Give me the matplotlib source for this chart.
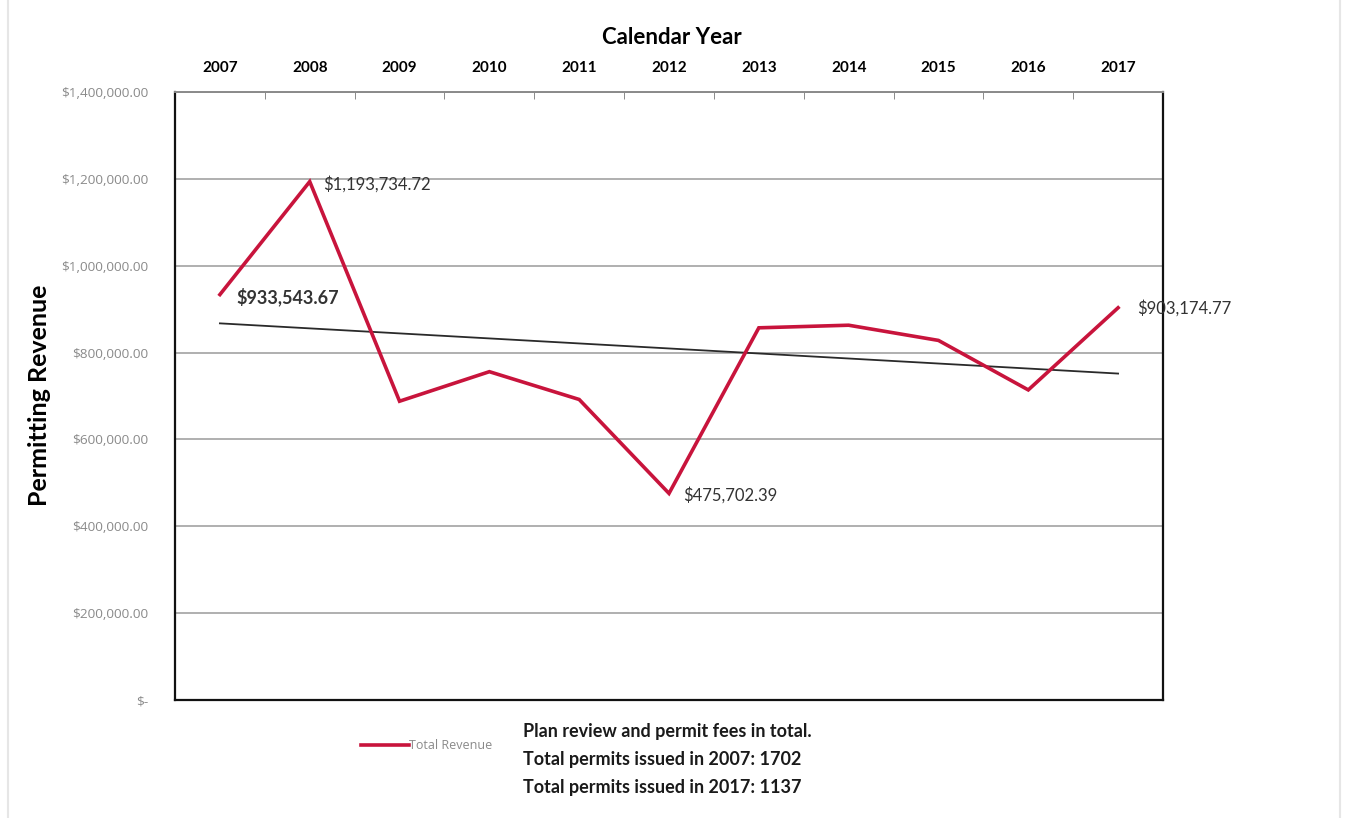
import matplotlib.pyplot as plt
import numpy as np
from matplotlib.ticker import FuncFormatter
from matplotlib.lines import Line2D

years = ['2007', '2008', '2009', '2010', '2011', '2012', '2013', '2014', '2015', '2016', '2017']
revenue = [933543.67, 1193734.72, 688000, 756000, 692000, 475702.39, 857000, 863000, 828000, 714000, 903174.77]
labelled = {0: '$933,543.67', 1: '$1,193,734.72', 5: '$475,702.39', 10: '$903,174.77'}
notes = ['Plan review and permit fees in total.',
         'Total permits issued in 2007: 1702',
         'Total permits issued in 2017: 1137']

red = '#c8143c'
bold_font = ['Lato', 'DejaVu Sans']

fig = plt.figure(figsize=(13.5, 8.18), dpi=100)
ax = fig.add_axes([175/1350, 1-700/818, (1163-175)/1350, (700-92)/818])

x = np.arange(len(years))
ax.plot(x, revenue, color=red, lw=2.6, solid_joinstyle='miter', zorder=3, label='Total Revenue')

# linear trend line
k, b = np.polyfit(x, revenue, 1)
ax.plot(x, k*x + b, color='#2a2a2a', lw=1.3, zorder=2)

ax.set_xlim(-0.5, len(years) - 0.5)
ax.set_ylim(0, 1400000)
ax.set_yticks(np.arange(0, 1400001, 200000))

def money(v, pos):
    if v == 0:
        return '$-'
    return '${:,.2f}'.format(v)

ax.yaxis.set_major_formatter(FuncFormatter(money))
ax.tick_params(axis='y', length=0, pad=19, labelsize=9.7, labelcolor='#8a8a8a')
for t in ax.get_yticklabels():
    t.set_family(['Open Sans', 'DejaVu Sans'])
ax.grid(axis='y', color='#9a9a9a', lw=1.1)

ax.xaxis.tick_top()
ax.set_xticks(x)
ax.set_xticklabels(years, fontsize=11, fontweight='bold', family=bold_font)
ax.tick_params(axis='x', length=0, pad=12)
ax.set_xticks(np.arange(0.5, len(years) - 1, 1), minor=True)
ax.tick_params(axis='x', which='minor', length=5, direction='in', color='#777777', top=True)

for s in ['left', 'right', 'bottom']:
    ax.spines[s].set_color('#111111')
    ax.spines[s].set_linewidth(1.6)
ax.spines['top'].set_color('#8a8a8a')
ax.spines['top'].set_linewidth(1.4)

# label offsets in points
offsets = {0: (12, -2, 13, 'bold'), 1: (10, -2, 12, 'normal'),
           5: (10, -1, 12, 'normal'), 10: (14, 0, 12, 'normal')}
for i, txt in labelled.items():
    dx, dy, fs, fw = offsets[i]
    ax.annotate(txt, (x[i], revenue[i]), xytext=(dx, dy), textcoords='offset points',
                ha='left', va='center', fontsize=fs, fontweight=fw, color='#333333', family=bold_font)

fig.text(672/1350, 1-38/818, 'Calendar Year', ha='center', va='center',
         fontsize=16, fontweight='bold', family=bold_font)
fig.text(40/1350, 1-395/818, 'Permitting Revenue', ha='center', va='center', rotation=90,
         fontsize=18, fontweight='bold', family=bold_font)

leg = ax.legend(loc='upper left', bbox_to_anchor=(350/1350, 1-728/818), bbox_transform=fig.transFigure,
                frameon=False, handlelength=3.8, handletextpad=0.05, labelcolor='#8a8a8a',
                prop={'family': ['Open Sans', 'DejaVu Sans'], 'size': 9})

for i, n in enumerate(notes):
    fig.text(523/1350, 1-(732 + 27.5*i)/818, n, ha='left', va='center',
             fontsize=13, fontweight='bold', family=bold_font, color='#1a1a1a')

# faint outer chart border
for xe in (8/1350, 1340/1350):
    fig.add_artist(Line2D([xe, xe], [0, 1], transform=fig.transFigure, color='#e6e6e6', lw=1.5))

fig.savefig('out.png', dpi=100)
